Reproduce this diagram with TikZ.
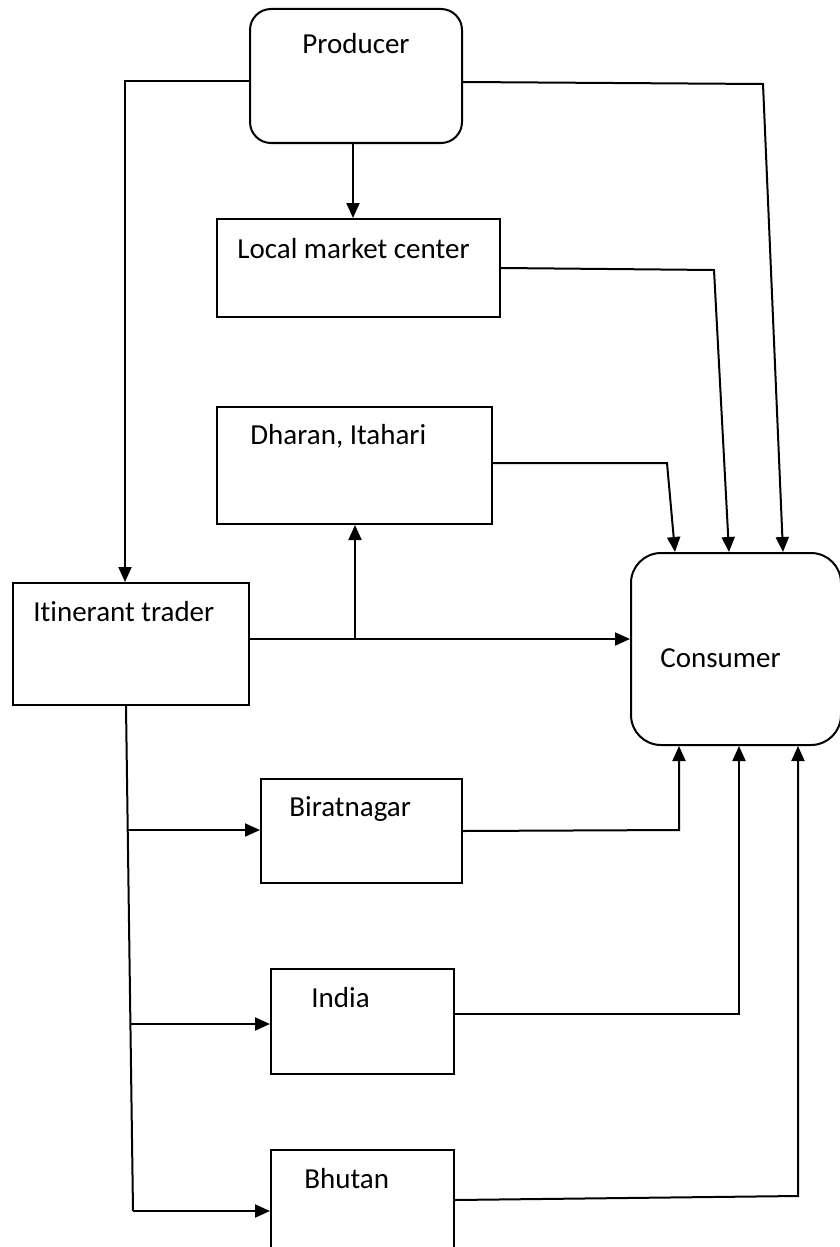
\documentclass[tikz,border=0pt]{standalone}
\usepackage{fontspec}
\setmainfont{Carlito}[Ligatures=NoCommon]
\usetikzlibrary{arrows.meta}
\begin{document}
\begin{tikzpicture}[
			x=0.5pt,y=-0.5pt,
			every label/.style={anchor=west,inner sep=0pt,font=\fontsize{14.5}{17}\selectfont},
			box/.style={draw,line width=1pt,anchor=north west,inner sep=0pt},
			roundbox/.style={box,rounded corners=#1},
			flow/.style={line width=1pt,-{Triangle[length=7.5pt,width=6.5pt]}},
			line/.style={line width=1pt}
			]
			\useasboundingbox (0,0) rectangle (840,1247);
			\node[roundbox=10.5pt,minimum width=106pt,minimum height=67pt,
				label={[xshift=26.5pt,yshift=-18pt]north west:Producer}] (prod) at (249,8) {};
			\node[box,minimum width=141.5pt,minimum height=49pt,
				label={[xshift=10.5pt,yshift=-15.5pt]north west:Local market center}] (local) at (216,218) {};
			\node[box,minimum width=137.5pt,minimum height=58.5pt,
				label={[xshift=17pt,yshift=-15pt]north west:Dharan, Itahari}] (dharan) at (216,406) {};
			\node[box,minimum width=118pt,minimum height=61pt,
				label={[xshift=10.5pt,yshift=-15pt]north west:Itinerant trader}] (trader) at (12,582) {};
			\node[roundbox=15pt,minimum width=105pt,minimum height=96pt,
				label={[xshift=15pt,yshift=-53pt]north west:Consumer}] (cons) at (630,552) {};
			\node[box,minimum width=100.5pt,minimum height=52pt,
				label={[xshift=14.5pt,yshift=-15.5pt]north west:Biratnagar}] (birat) at (260,778) {};
			\node[box,minimum width=91.5pt,minimum height=52.5pt,
				label={[xshift=20.5pt,yshift=-15pt]north west:India}] (india) at (270,968) {};
			\node[box,minimum width=91.5pt,minimum height=55pt,
				label={[xshift=17pt,yshift=-15pt]north west:Bhutan}] (bhutan) at (270,1149) {};
			\coordinate (pl) at (125,81);
			\coordinate (pr) at (763,84);
			\coordinate (lm) at (714,270);
			\coordinate (dh) at (667,463);
			\coordinate (tj) at (355,639);
			\coordinate (b1) at (127,830);
			\coordinate (b2) at (130,1024);
			\coordinate (tb) at (133,1211);
			\coordinate (bc) at (679,830);
			\coordinate (ic) at (739,1014);
			\coordinate (hc) at (798,1196);
			\draw[flow] ([xshift=-1.5pt]prod.south) -- ([xshift=-1.5pt]prod.south |- local.north);
			\draw[flow] (pl -| prod.west) -- (pl) -- (pl |- trader.north);
			\draw[flow] (prod.east |- 0,82) -- (pr) -- ([xshift=76.5pt]cons.north west);
			\draw[flow] (local.east |- 0,268) -- (lm) -- ([xshift=49.5pt]cons.north west);
			\draw[flow] (dh -| dharan.east) -- (dh) -- ([xshift=22.5pt]cons.north west);
			\draw[flow] (tj -| trader.east) -- (tj -| cons.west);
			\draw[flow] (tj) -- (tj |- dharan.south);
			\draw[line] ([xshift=-2.5pt]trader.south) -- (tb);
			\draw[flow] (tb) -- (tb -| bhutan.west);
			\draw[flow] (b1) -- (b1 -| birat.west);
			\draw[flow] (b2) -- (b2 -| india.west);
			\draw[flow] (birat.east) -- (bc) -- (bc |- cons.south);
			\draw[flow] (ic -| india.east) -- (ic) -- (ic |- cons.south);
			\draw[flow] (bhutan.east |- 0,1200) -- (hc) -- (hc |- cons.south);
		\end{tikzpicture}
\end{document}
